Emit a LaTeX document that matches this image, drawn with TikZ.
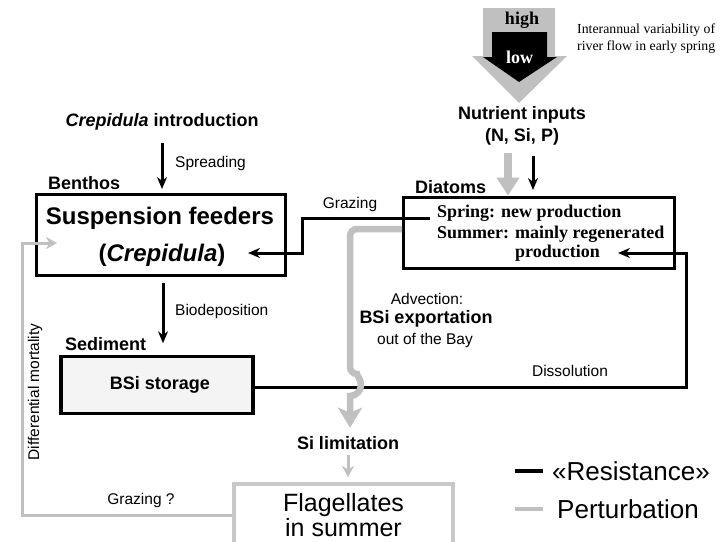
\documentclass[tikz,border=0pt]{standalone}
\usepackage{fontspec}
\setmainfont{Liberation Sans}
\newfontfamily\timesfont{Liberation Serif}
\usetikzlibrary{arrows.meta, calc}
\definecolor{pertgray}{RGB}{192,192,192}
\definecolor{flaggray}{RGB}{200,200,200}
\definecolor{storagefill}{RGB}{244,244,244}

\begin{document}
\begin{tikzpicture}[x=1pt, y=-1pt,
    txt/.style={inner sep=0pt},
    complabel/.style={txt, font=\fontsize{18}{21}\selectfont\bfseries},
    flowlabel/.style={txt, font=\fontsize{15.5}{18}\selectfont},
    bigtext/.style={txt, font=\fontsize{24}{28}\selectfont\bfseries},
    keytext/.style={txt, anchor=west, font=\fontsize{26}{30}\selectfont},
    diattext/.style={txt, anchor=west, font=\timesfont\fontsize{18}{20}\selectfont\bfseries},
    resbox/.style={draw, line width=3pt, inner sep=0pt},
    resist/.style={line width=3pt, -{Stealth[length=12pt, width=10pt]}},
    perturb/.style={pertgray, line width=6.5pt, -{Stealth[length=20pt, width=24pt, inset=5pt]}},
    thinpert/.style={pertgray, line width=3pt, -{Stealth[length=11pt, width=12pt]}}
  ]
        \clip (0,0) rectangle (727,541);
        \fill[white] (0,0) rectangle (727,541);

        \fill[pertgray] (483,8) -- (555,8) -- (555,56) -- (567,56) -- (519,103) -- (472,56) -- (483,56) -- cycle;
        \fill[black] (492,32) -- (547,32) -- (547,57) -- (557,57) -- (519,82) -- (483,57) -- (492,57) -- cycle;
        \node[txt, font=\timesfont\fontsize{18}{20}\selectfont\bfseries] (high) at (522,20) {high};
        \node[txt, white, font=\timesfont\fontsize{18}{20}\selectfont\bfseries] (low) at (519.5,57) {low};
        \node[txt, anchor=base west, font=\timesfont\fontsize{13.8}{17}\selectfont] (flowvarA) at (577,33) {Interannual variability of};
        \node[txt, anchor=base west, font=\timesfont\fontsize{13.8}{17}\selectfont] (flowvarB) at (577,50) {river flow in early spring};

        \node[complabel] (nutrA) at (522,115) {Nutrient inputs};
        \node[complabel] (nutrB) at (522,137) {(N, Si, P)};

        \node[complabel] (intro) at (162,122) {\textit{Crepidula} introduction};
        \node[flowlabel, anchor=west] (spreadlabel) at (175,163) {Spreading};

        \node[complabel, anchor=west] (benthos) at (48,183) {Benthos};
        \node[resbox, minimum width=249pt, minimum height=81pt] (susp) at (160.5,234.5) {};
        \node[bigtext] (suspname) at (160,218) {Suspension feeders};
        \node[bigtext] (suspgenus) at (162,255) {(\textit{Crepidula})};

        \node[complabel, anchor=west] (diatoms) at (415,187) {Diatoms};
        \node[resbox, minimum width=271pt, minimum height=71pt] (diat) at (538.5,232.5) {};
        \node[diattext] (spring) at (437,213) {Spring: new production};
        \node[diattext] (summer) at (437,234.5) {Summer: mainly regenerated};
        \node[diattext] (regen) at (515,253) {production};

        \node[flowlabel] (grazlabel) at (350,204) {Grazing};
        \node[flowlabel, anchor=west] (biodep) at (175,311) {Biodeposition};

        \node[flowlabel] (advection) at (427,299) {Advection:};
        \node[complabel] (export) at (426,319) {BSi exportation};
        \node[flowlabel] (outbay) at (425,340) {out of the Bay};

        \node[complabel, anchor=west] (sediment) at (65,344) {Sediment};
        \node[resbox, line width=3.5pt, fill=storagefill, minimum width=192pt, minimum height=57pt, font=\fontsize{18}{21}\selectfont\bfseries] (bsi) at (157,385) {\hspace*{6pt}BSi storage};
        \node[flowlabel] (dissolution) at (570,371) {Dissolution};

        \node[complabel] (sillim) at (348,443) {Si limitation};
        \node[draw=flaggray, line width=4pt, fill=white, minimum width=219pt, minimum height=62pt, align=center, font=\fontsize{25}{20}\selectfont] (flag) at (343.5,515) {Flagellates\\in summer};
        \node[flowlabel] (grazq) at (141,500) {Grazing ?};
        \node[flowlabel, rotate=90] (mortlabel) at (35,392) {Differential mortality};

        \node[keytext] (reskey) at (552,471) {«Resistance»};
        \node[keytext] (pertkey) at (557,509) {Perturbation};

        \coordinate (grzstart) at (430,218);
        \coordinate (grzin) at (248,253);
        \coordinate (dissturn) at (686,253);
        \coordinate (dissin) at (618,253);
        \coordinate (expstart) at (402,229);
        \coordinate (hoptop) at (350,374);
        \coordinate (mortturn) at (22,243);
        \coordinate (mortin) at (57,243);

        \draw[resist, shorten <=12pt, shorten >=3.5pt] (intro.south) -- (intro.south |- susp.north);
        \draw[resist, shorten <=6.5pt, shorten >=11.5pt] ([xshift=2.5pt]susp.south) -- ([xshift=2.5pt]susp.south |- bsi.north);
        \draw[resist] (grzstart) -- ++(-128,0) |- (grzin);
        \draw[resist] ([yshift=-2pt]bsi.east) -| (dissturn) -- (dissin);
        \draw[pertgray, line width=8pt, -{Triangle[length=18pt, width=22pt]}, shorten <=7pt] ([xshift=-14pt]nutrB.south) -- ([xshift=-14pt]nutrB.south |- diat.north);
        \draw[resist, shorten <=10pt, shorten >=5.5pt] ([xshift=11pt]nutrB.south) -- ([xshift=11pt]nutrB.south |- diat.north);
        \draw[perturb, rounded corners=7pt, shorten >=8.5pt] (expstart) -| (hoptop) [sharp corners] arc[start angle=-90, end angle=90, radius=11] -- (sillim.north -| hoptop);
        \draw[thinpert, shorten <=5.5pt, shorten >=5pt] (sillim.south) -- (sillim.south |- flag.north);
        \draw[thinpert] (flag.west) -| (mortturn) -- (mortin);

        \draw[line width=4pt] ([xshift=-9pt]reskey.west) -- ++(-28,0);
        \draw[pertgray, line width=4pt] ([xshift=-14pt]pertkey.west) -- ++(-28,0);
\end{tikzpicture}
\end{document}
